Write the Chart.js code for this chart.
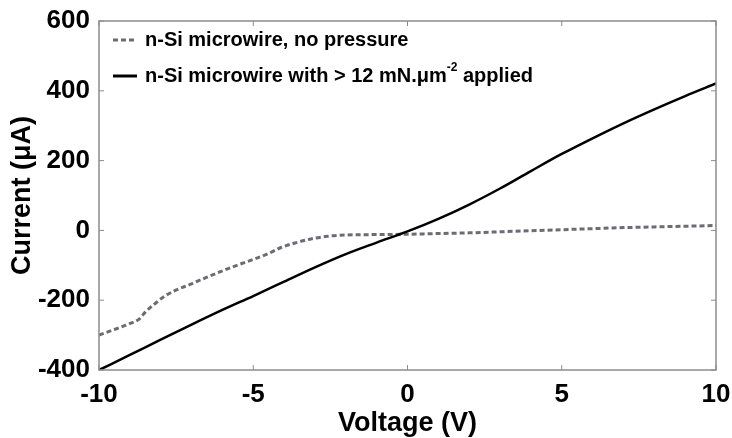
<!DOCTYPE html>
<html>
<head>
<meta charset="utf-8">
<script src="https://cdn.jsdelivr.net/npm/chart.js@4.4.1/dist/chart.umd.min.js"></script>
<style>
  html, body { margin: 0; padding: 0; background: #fff; }
  #wrap { width: 732px; height: 438px; }
</style>
</head>
<body>
<div id="wrap"><canvas id="ivChart" width="732" height="438"></canvas></div>
<script>
// I-V curves
const pressedVoltage = [-10, -9, -8, -7, -6, -5, -4, -3, -2, -1, 0, 1, 2, 3, 4, 5, 6, 7, 8, 9, 10];
const pressedCurrent = [-400, -357, -313, -270, -228, -188, -147, -106, -68, -35, -3, 33, 74, 120, 170, 219, 264, 307, 347, 385, 421];

const noPressVoltage = [-10, -9.5, -9, -8.7, -8.5, -8.2, -7.9, -7.6, -7, -6.5, -6, -5.5, -5, -4.5, -4.1, -3.6, -3.1, -2.6, -2, -1, 0, 1, 2, 3, 4, 5, 6, 7, 8, 9, 10];
const noPressCurrent = [-300, -284, -267, -254, -234, -211, -190, -175, -153, -134, -116, -99, -83, -66, -49, -35, -24, -17, -13, -12, -11, -9, -7, -4, -1, 2, 5, 8, 10, 12, 14];

const xTicks = [-10, -5, 0, 5, 10];
const yTicks = [-400, -200, 0, 200, 400, 600];

const legendLabels = ['n-Si microwire, no pressure', 'n-Si microwire with > 12 mN.\u03bcm'];
const legendSup = '-2';
const legendTail = ' applied';

const toPoints = (xs, ys) => xs.map((x, i) => ({ x: x, y: ys[i] }));

const frameColor = '#8c8c8c';
const dashColor = '#6f6b73';

// box frame with inward ticks on all four sides
const framePlugin = {
  id: 'frame',
  afterDatasetsDraw(chart) {
    const { ctx, chartArea: a, scales } = chart;
    ctx.save();
    ctx.strokeStyle = frameColor;
    ctx.lineWidth = 1.5;
    ctx.strokeRect(a.left, a.top, a.right - a.left, a.bottom - a.top);
    ctx.lineWidth = 1;
    const len = 5;
    xTicks.forEach(v => {
      const px = scales.x.getPixelForValue(v);
      ctx.beginPath();
      ctx.moveTo(px, a.bottom); ctx.lineTo(px, a.bottom - len);
      ctx.moveTo(px, a.top); ctx.lineTo(px, a.top + len);
      ctx.stroke();
    });
    yTicks.forEach(v => {
      const py = scales.y.getPixelForValue(v);
      ctx.beginPath();
      ctx.moveTo(a.left, py); ctx.lineTo(a.left + len, py);
      ctx.moveTo(a.right, py); ctx.lineTo(a.right - len, py);
      ctx.stroke();
    });
    ctx.restore();
  }
};

// legend inside the plot, top left
const legendPlugin = {
  id: 'innerLegend',
  afterDraw(chart) {
    const { ctx, chartArea: a } = chart;
    const x0 = a.left + 14, x1 = a.left + 38, tx = a.left + 46;
    const rows = [a.top + 19, a.top + 55];
    ctx.save();
    ctx.lineWidth = 3;
    ctx.strokeStyle = dashColor;
    ctx.setLineDash([5, 3]);
    ctx.beginPath(); ctx.moveTo(x0, rows[0]); ctx.lineTo(x1, rows[0]); ctx.stroke();
    ctx.setLineDash([]);
    ctx.strokeStyle = '#000';
    ctx.beginPath(); ctx.moveTo(x0, rows[1]); ctx.lineTo(x1, rows[1]); ctx.stroke();

    ctx.fillStyle = '#000';
    ctx.textBaseline = 'middle';
    ctx.font = 'bold 20px "Liberation Sans", Arial, sans-serif';
    ctx.fillText(legendLabels[0], tx, rows[0]);
    ctx.fillText(legendLabels[1], tx, rows[1]);
    let w = ctx.measureText(legendLabels[1]).width;
    ctx.font = 'bold 12px "Liberation Sans", Arial, sans-serif';
    ctx.fillText(legendSup, tx + w, rows[1] - 8);
    w += ctx.measureText(legendSup).width;
    ctx.font = 'bold 20px "Liberation Sans", Arial, sans-serif';
    ctx.fillText(legendTail, tx + w, rows[1]);
    ctx.restore();
  }
};

const tickFont = { family: '"Liberation Sans", Arial, sans-serif', size: 26, weight: 'bold' };
const titleFont = { family: '"Liberation Sans", Arial, sans-serif', size: 27, weight: 'bold', lineHeight: 1 };

new Chart(document.getElementById('ivChart').getContext('2d'), {
  type: 'line',
  data: {
    datasets: [
      {
        label: 'n-Si microwire with > 12 mN.\u03bcm-2 applied',
        data: toPoints(pressedVoltage, pressedCurrent),
        borderColor: '#000',
        borderWidth: 2.5,
        pointRadius: 0,
        cubicInterpolationMode: 'monotone',
        fill: false
      },
      {
        label: 'n-Si microwire, no pressure',
        data: toPoints(noPressVoltage, noPressCurrent),
        borderColor: dashColor,
        borderWidth: 3,
        borderDash: [5, 3],
        pointRadius: 0,
        cubicInterpolationMode: 'monotone',
        fill: false
      }
    ]
  },
  options: {
    responsive: false,
    animation: false,
    layout: { padding: { top: 21, right: 16, left: 0, bottom: 0 } },
    plugins: {
      legend: { display: false },
      tooltip: { enabled: false }
    },
    scales: {
      x: {
        type: 'linear',
        min: -10,
        max: 10,
        afterBuildTicks: s => { s.ticks = xTicks.map(v => ({ value: v })); },
        afterFit: s => { s.height = 68; s.paddingLeft = 0; s.paddingRight = 0; },
        grid: { display: false, drawTicks: false },
        border: { display: false },
        ticks: { font: tickFont, color: '#000', padding: 9, maxRotation: 0 },
        title: { display: true, text: 'Voltage (V)', font: titleFont, color: '#000', padding: { top: 0, bottom: 1 } }
      },
      y: {
        type: 'linear',
        min: -400,
        max: 600,
        afterBuildTicks: s => { s.ticks = yTicks.map(v => ({ value: v })); },
        afterFit: s => { s.width = 99; s.paddingTop = 0; s.paddingBottom = 0; },
        grid: { display: false, drawTicks: false },
        border: { display: false },
        ticks: { font: tickFont, color: '#000', padding: 9 },
        title: { display: true, text: 'Current (\u03bcA)', font: titleFont, color: '#000', padding: { top: 9, bottom: 0 } }
      }
    }
  },
  plugins: [framePlugin, legendPlugin]
});
</script>
</body>
</html>
